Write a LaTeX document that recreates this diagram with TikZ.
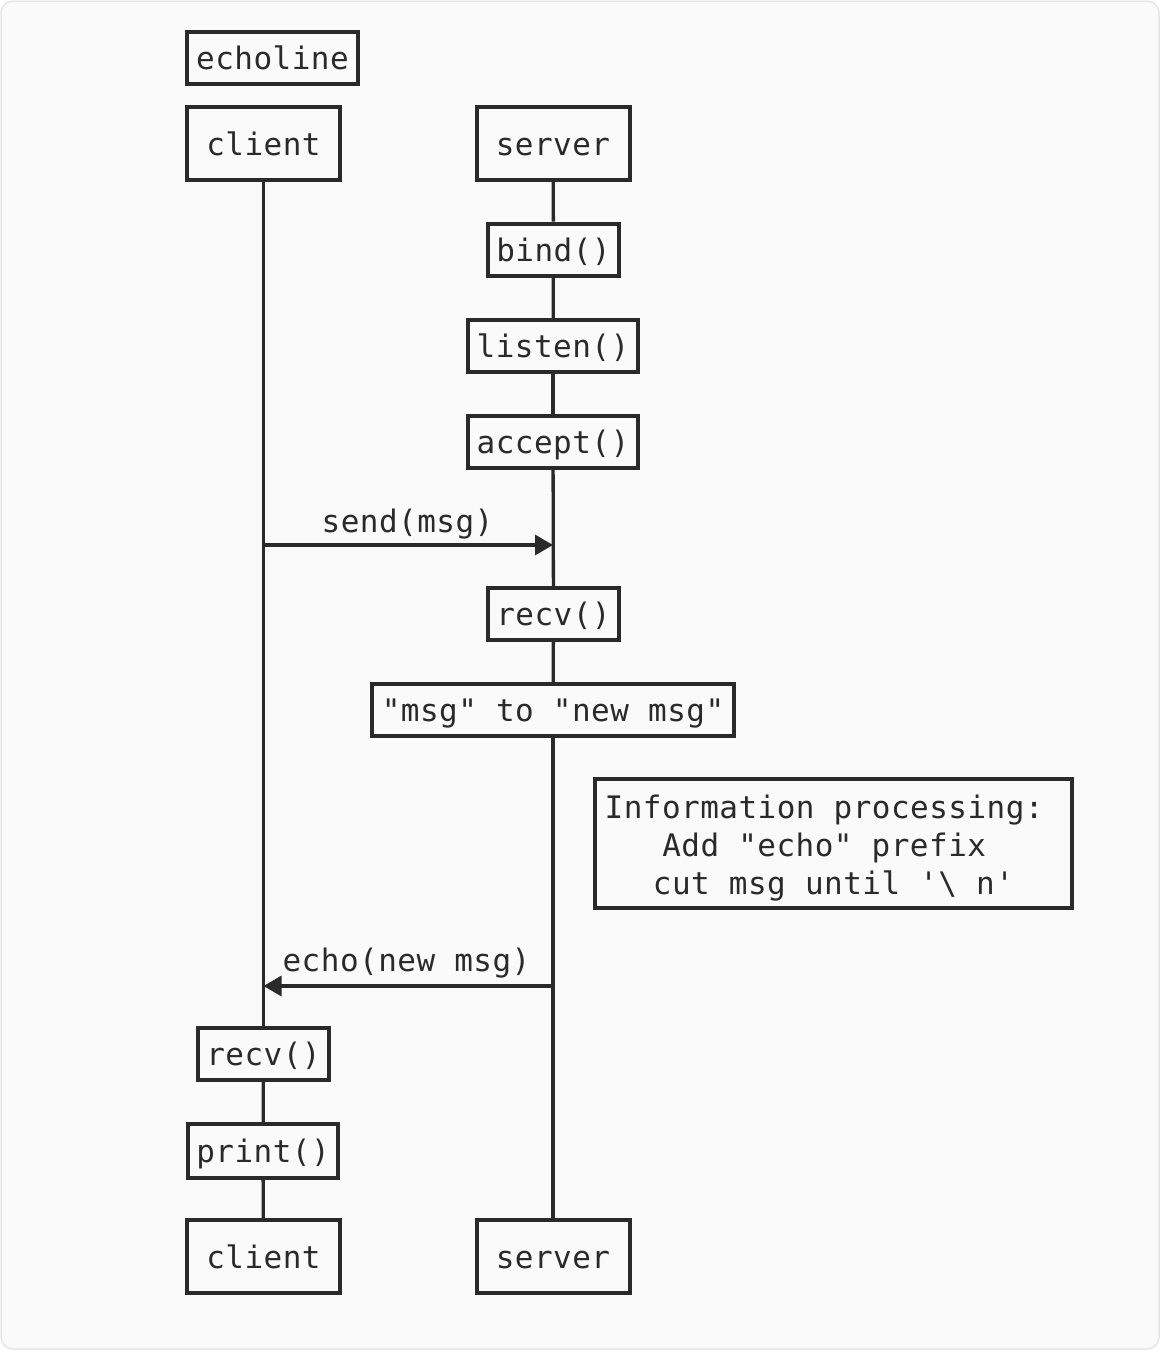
\documentclass[tikz,border=0pt]{standalone}
\usepackage{fontspec}
\setmonofont[LetterSpace=1.5]{DejaVu Sans Mono}
\usetikzlibrary{arrows.meta}
\definecolor{inkcol}{HTML}{2A2A2A}
\definecolor{bgcol}{HTML}{FAFAFA}
\definecolor{framecol}{HTML}{E6E6E6}
\tikzset{
  every node/.style={font=\ttfamily\fontsize{31}{38}\selectfont, text=inkcol},
  oneline/.style={text height=23pt, text depth=0pt},
  boxed/.style={draw=inkcol, line width=4pt, inner sep=0pt},
  actor/.style={boxed, oneline, minimum width=153pt, minimum height=73pt},
  call/.style={boxed, oneline, minimum height=52pt},
  lifeline/.style={draw=inkcol, line width=3.3pt},
  msgarrow/.style={draw=inkcol, line width=3.3pt, -{Triangle[length=18pt,width=20pt]}}
}
\begin{document}
\begin{tikzpicture}[x=1pt,y=-1pt]
  \useasboundingbox (0,0) rectangle (1160,1350);
  \filldraw[fill=bgcol, draw=framecol, line width=1.5pt, rounded corners=12pt] (1,1) rectangle (1159,1349);
  \node[call, minimum width=171pt] (title) at (272.5,57.5) {echoline};
  \node[actor] (cltop) at (263.5,143.5) {client};
  \node[actor] (srvtop) at (553,143.5) {server};
  \node[call, minimum width=131pt] (bind) at (553.5,249.5) {bind()};
  \node[call, minimum width=170pt] (listen) at (553,346) {listen()};
  \node[call, minimum width=170pt] (accept) at (553,442) {accept()};
  \node[call, minimum width=131pt] (srvrecv) at (553.5,614) {recv()};
  \node[call, minimum width=362pt] (convert) at (553,710) {"msg" to "new msg"};
  \node[boxed, minimum width=477pt, minimum height=129pt, align=center] (info) at (833.5,843.5)
    {\rule{0pt}{33.6pt}Information processing:\phantom{x}\\Add "echo" prefix\phantom{x}\\cut msg until '\textbackslash{} n'};
  \node[call, minimum width=131pt] (clrecv) at (263.5,1054) {recv()};
  \node[call, minimum width=150pt, minimum height=54pt] (print) at (263,1151) {print()};
  \node[actor] (clbot) at (263.5,1256.5) {client};
  \node[actor] (srvbot) at (553,1256.5) {server};
  \coordinate (sendA) at (263.5,545);
  \coordinate (sendB) at (553,545);
  \coordinate (echoA) at (553,986);
  \coordinate (echoB) at (263.5,986);
  \foreach \source/\dest in {cltop/clrecv, clrecv/print, print/clbot, srvtop/bind, bind/listen, listen/accept, accept/srvrecv, srvrecv/convert, convert/srvbot}
    \path[lifeline] (\source) edge (\dest);
  \draw[msgarrow] (sendA) -- (sendB);
  \draw[msgarrow] (echoA) -- (echoB);
  \node[oneline] (sendlbl) at (407.5,520.5) {send(msg)};
  \node[oneline] (echolbl) at (406.5,960) {echo(new msg)};
\end{tikzpicture}
\end{document}
